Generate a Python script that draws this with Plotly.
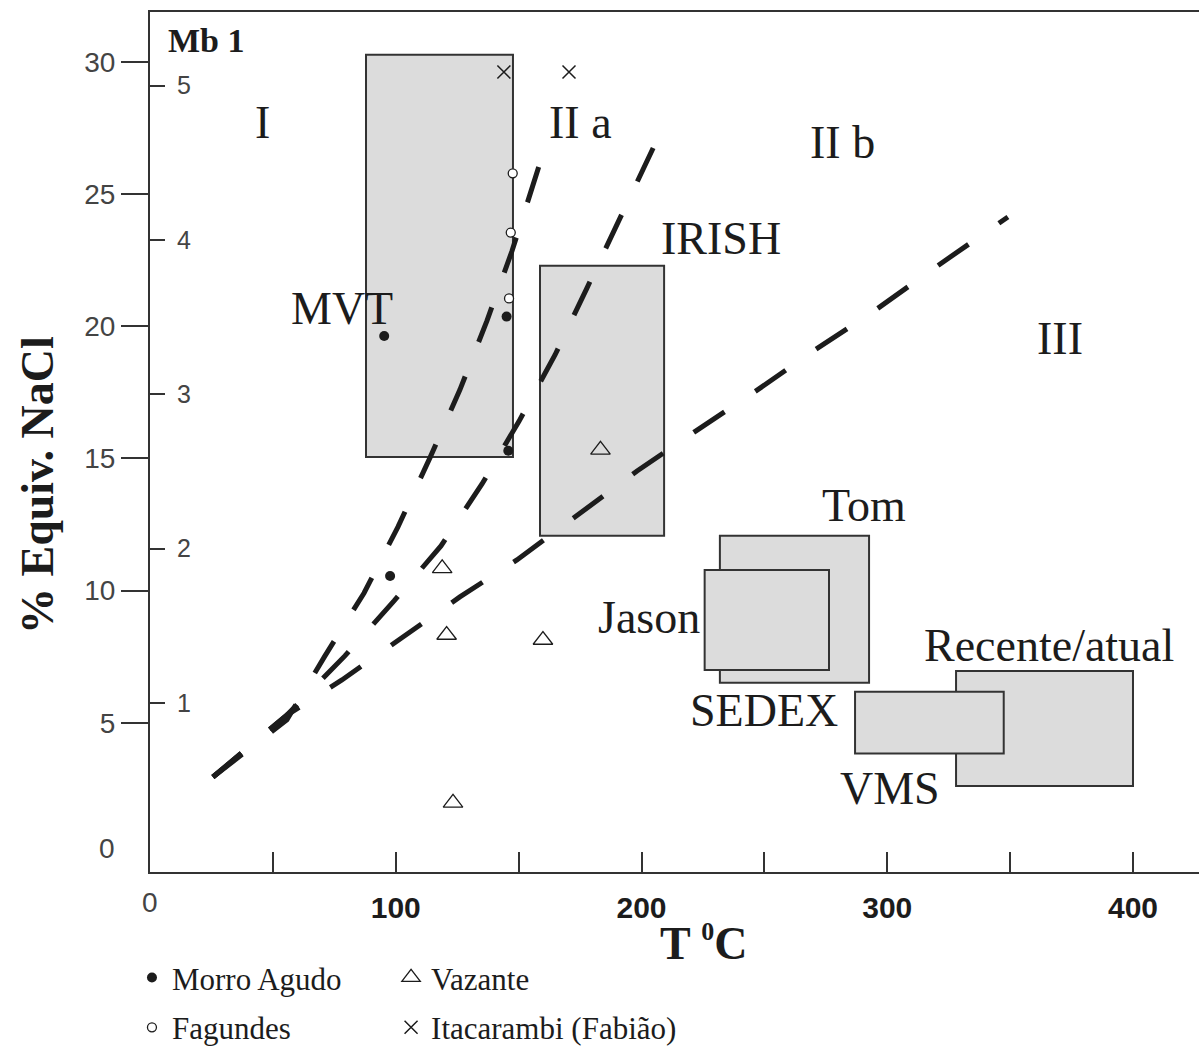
import plotly.graph_objects as go

# ---------------- data ----------------
# Morro Agudo (filled dots)
morro_T = [95.3, 145.1, 145.8, 97.7]
morro_N = [19.63, 20.36, 15.29, 10.55]
# Fagundes (open circles)
fag_T = [147.6, 146.8, 146.1]
fag_N = [25.78, 23.54, 21.05]
# Vazante (open triangles)
vaz_T = [183.3, 118.9, 120.7, 159.9, 123.3]
vaz_N = [15.32, 10.84, 8.32, 8.13, 1.97]
# Itacarambi (Fabião) (crosses)
ita_T = [144.0, 170.5]
ita_N = [29.61, 29.61]

# field boundaries (dashed curves)
lineA_T = [25.6, 55.7, 71.2, 87.1, 100.9, 113.9, 126.1, 137.1, 147.3, 156.7, 158.7]
lineA_N = [2.95, 5.11, 7.53, 9.91, 12.41, 15.02, 17.59, 20.20, 22.84, 25.57, 26.17]
lineB_T = [25.6, 55.7, 79.3, 99.3, 118.4, 135.1, 150.2, 164.8, 177.8, 190.8, 203.1, 206.7]
lineB_N = [2.95, 5.29, 7.53, 9.61, 11.69, 14.03, 16.41, 18.91, 21.44, 24.02, 26.51, 27.12]
lineC_T = [25.6, 55.7, 78.1, 102.1, 126.1, 149.3, 174.2, 198.2, 222.2, 246.6, 270.6, 294.6, 318.6, 343.0, 349.1]
lineC_N = [2.95, 5.29, 6.62, 8.21, 9.76, 11.16, 12.90, 14.52, 16.04, 17.55, 19.10, 20.57, 22.16, 23.71, 24.13]

# deposit-type boxes: name, T min, T max, NaCl min, NaCl max (drawing order)
box_names = ["MVT", "IRISH", "Tom", "Jason", "Recente/atual", "VMS"]
box_T0 = [87.9, 158.7, 231.9, 225.7, 328.0, 286.9]
box_T1 = [147.7, 209.2, 292.6, 276.3, 400.0, 347.4]
box_N0 = [15.05, 12.07, 6.51, 7.00, 2.61, 3.84]
box_N1 = [30.26, 22.28, 12.07, 10.78, 6.96, 6.17]

# text labels
label_text = ["I", "II a", "II b", "III", "IRISH", "MVT", "Tom", "Jason", "SEDEX", "Recente/atual", "VMS"]
label_T = [45.6, 175.0, 281.6, 370.3, 232.4, 78.1, 290.5, 203.1, 249.8, 365.8, 301.1]
label_N = [27.69, 27.69, 26.93, 19.52, 23.30, 20.65, 13.20, 9.00, 5.45, 7.94, 2.50]

x_tickvals = [50, 100, 150, 200, 250, 300, 350, 400]
x_ticktext = ["", "100", "", "200", "", "300", "", "400"]
y_tickvals = [5, 10, 15, 20, 25, 30]
mb_tickvals = [1, 2, 3, 4, 5]

# ---------------- styling ----------------
INK = "#1c1c1c"
AX = "#333333"
FILL = "#dcdcdc"
SERIF = "Liberation Serif"
SANS = "Liberation Sans"

fig = go.Figure()

for T, N in [(lineA_T, lineA_N), (lineB_T, lineB_N), (lineC_T, lineC_N)]:
    fig.add_trace(go.Scatter(x=T, y=N, mode="lines", showlegend=False, hoverinfo="skip",
                             line=dict(color=INK, width=5, dash="37px,37px")))

fig.add_trace(go.Scatter(x=morro_T, y=morro_N, mode="markers", name="Morro Agudo", legend="legend",
                         marker=dict(symbol="circle", size=10, color=INK, line=dict(width=0))))
fig.add_trace(go.Scatter(x=vaz_T, y=vaz_N, mode="markers", name="Vazante", legend="legend2",
                         marker=dict(symbol="triangle-up-open", size=17, color=INK, line=dict(width=1.3))))
fig.add_trace(go.Scatter(x=fag_T, y=fag_N, mode="markers", name="Fagundes", legend="legend3",
                         marker=dict(symbol="circle", size=9, color="white", line=dict(color=INK, width=1.3))))
fig.add_trace(go.Scatter(x=ita_T, y=ita_N, mode="markers", name="Itacarambi (Fabião)", legend="legend4",
                         marker=dict(symbol="x-thin", size=13, color=INK, line=dict(color=INK, width=1.5))))
# anchor trace so the inner Mb scale is drawn
fig.add_trace(go.Scatter(x=[None], y=[None], yaxis="y2", mode="markers", showlegend=False, hoverinfo="skip"))

for i in range(len(box_names)):
    fig.add_shape(type="rect", xref="x", yref="y", layer="below",
                  x0=box_T0[i], x1=box_T1[i], y0=box_N0[i], y1=box_N1[i],
                  fillcolor=FILL, line=dict(color=AX, width=2))

for t, xx, yy in zip(label_text, label_T, label_N):
    fig.add_annotation(x=xx, y=yy, xref="x", yref="y", text=t, showarrow=False,
                       xanchor="center", yanchor="middle",
                       font=dict(family=SERIF, size=46, color=INK))

fig.add_annotation(x=22.8, y=30.79, xref="x", yref="y", text="<b>Mb 1</b>", showarrow=False,
                   xanchor="center", yanchor="middle", font=dict(family=SERIF, size=34, color=INK))

# axis titles and stray zero labels
fig.add_annotation(x=0.528, y=-0.0826, xref="paper", yref="paper",
                   text="<b>T <sup><span style='font-size:26px'>0</span></sup>C</b>",
                   showarrow=False, xanchor="center", yanchor="middle",
                   font=dict(family=SERIF, size=46, color=INK))
fig.add_annotation(x=-0.1077, y=0.45, xref="paper", yref="paper", text="<b>% Equiv. NaCl</b>",
                   textangle=-90, showarrow=False, xanchor="center", yanchor="middle",
                   font=dict(family=SERIF, size=46, color=INK))
fig.add_annotation(x=-0.0315, y=0.0279, xref="paper", yref="paper", text="0", showarrow=False,
                   xanchor="right", yanchor="middle", font=dict(family=SANS, size=28, color="#444444"))
fig.add_annotation(x=0.0, y=-0.036, xref="paper", yref="paper", text="0", showarrow=False,
                   xanchor="center", yanchor="middle", font=dict(family=SANS, size=28, color="#444444"))

leg_common = dict(orientation="h", xanchor="left", yanchor="middle",
                  font=dict(family=SERIF, size=31, color=INK),
                  bgcolor="rgba(0,0,0,0)", itemclick=False)

fig.update_layout(
    width=1199, height=1047,
    margin=dict(l=150, r=0, t=12, b=175, pad=0, autoexpand=False),
    paper_bgcolor="white", plot_bgcolor="white",
    xaxis=dict(range=[0, 426.86], tickvals=x_tickvals, ticktext=x_ticktext,
               ticks="inside", ticklen=20, tickwidth=2, tickcolor=AX,
               showline=True, linecolor=AX, linewidth=2, mirror=True,
               showgrid=False, zeroline=False, ticklabelstandoff=8,
               tickfont=dict(family=SANS, size=30, color=INK, weight="bold")),
    yaxis=dict(range=[-0.643, 31.88], tickvals=y_tickvals,
               ticks="outside", ticklen=27, tickwidth=2, tickcolor=AX,
               showline=True, linecolor=AX, linewidth=2,
               showgrid=False, zeroline=False, ticklabelstandoff=0,
               tickfont=dict(family=SANS, size=28, color="#444444")),
    yaxis2=dict(range=[-0.097, 5.478], overlaying="y", anchor="x", side="left",
                tickvals=mb_tickvals, ticks="inside", ticklen=15, tickwidth=2, tickcolor=AX,
                ticklabelposition="inside", ticklabelstandoff=14,
                showline=False, showgrid=False, zeroline=False,
                tickfont=dict(family=SANS, size=25, color="#444444")),
    legend=dict(x=-0.0172, y=-0.123, **leg_common),
    legend2=dict(x=0.2298, y=-0.123, **leg_common),
    legend3=dict(x=-0.0172, y=-0.181, **leg_common),
    legend4=dict(x=0.2298, y=-0.181, **leg_common),
)

fig.write_html("out.html", config={"displayModeBar": False},
               post_script="document.body.style.margin='0';document.body.style.padding='0';")
